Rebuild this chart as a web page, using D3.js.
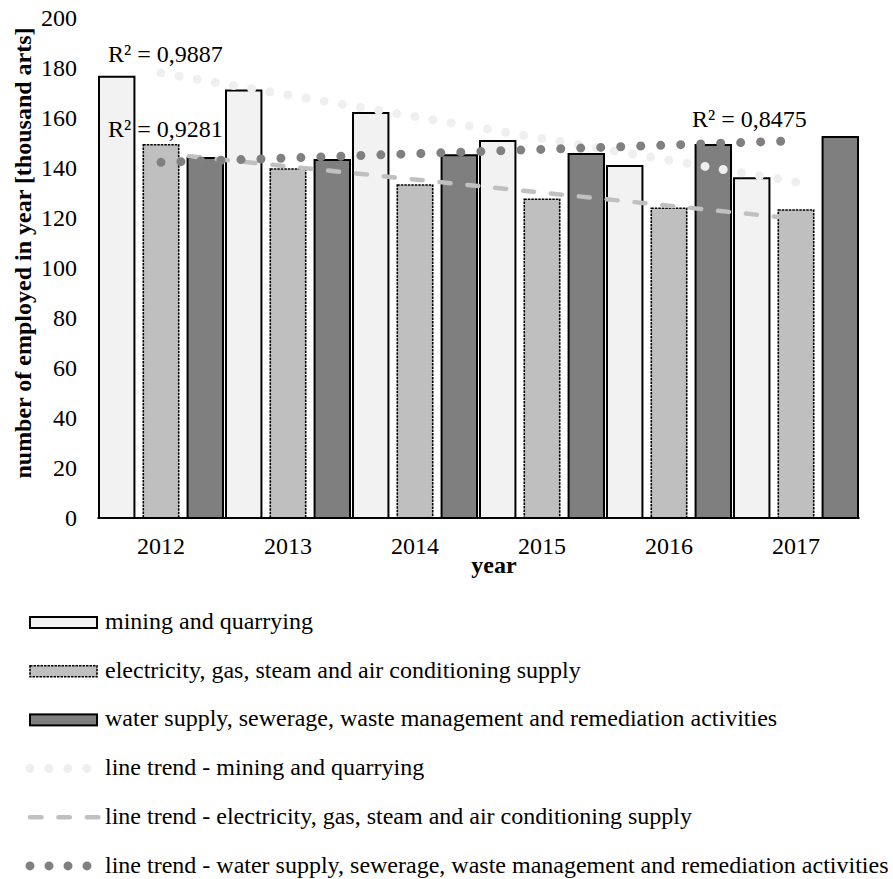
<!DOCTYPE html>
<html>
<head>
<meta charset="utf-8">
<script src="https://cdn.jsdelivr.net/npm/d3@7"></script>
<style>
  html, body { margin: 0; padding: 0; background: #fff; }
  svg { display: block; font-family: "Liberation Serif", "Times New Roman", serif; }
  svg text { font-family: "Liberation Serif", "Times New Roman", serif; }
</style>
</head>
<body>
<svg id="chart" width="893" height="879"></svg>
<script>
// ---- data ----
const years = ["2012", "2013", "2014", "2015", "2016", "2017"];
const mining = [176.5, 171.0, 162.0, 150.8, 140.8, 135.9];
const electricity = [149.3, 139.6, 133.2, 127.5, 123.9, 123.2];
const water = [144.0, 143.2, 145.1, 145.6, 149.2, 152.4];
const yTicks = [0, 20, 40, 60, 80, 100, 120, 140, 160, 180, 200];
const seriesNames = [
  "mining and quarrying",
  "electricity, gas, steam and air conditioning supply",
  "water supply, sewerage, waste management and remediation activities"
];
const trendNames = [
  "line trend - mining and quarrying",
  "line trend - electricity, gas, steam and air conditioning supply",
  "line trend - water supply, sewerage, waste management and remediation activities"
];
const r2Labels = ["R² = 0,9887", "R² = 0,9281", "R² = 0,8475"];
const yTitle = "number of employed in year [thousand arts]";
const xTitle = "year";

// ---- styles ----
const fills = ["#f2f2f2", "#bfbfbf", "#7f7f7f"];
const barStroke = [
  { dash: null, w: 2 },
  { dash: "2.5,1", w: 1.6 },
  { dash: null, w: 2 }
];
const trendStyle = [
  { color: "#efefef", w: 9, dash: "0,18.4" },
  { color: "#c0c0c0", w: 4.5, dash: "11,17" },
  { color: "#808080", w: 9, dash: "0,20" }
];
const legendTrendStyle = [
  { color: "#efefef", w: 9, dash: "0,18.9" },
  { color: "#c0c0c0", w: 4.5, dash: "11.5,16.9" },
  { color: "#808080", w: 9, dash: "0,19" }
];

const svg = d3.select("#chart");
const FS = 24;

const x0 = d3.scaleBand().domain(years).range([97.5, 859.5])
  .paddingInner(3 / 127).paddingOuter(1.5 / 127);
const x1 = d3.scaleBand().domain([0, 1, 2]).range([0, x0.bandwidth()])
  .paddingInner(0.2).paddingOuter(0);
const y = d3.scaleLinear().domain([0, 200]).range([518, 18]);

const series = [mining, electricity, water];

// bars
series.forEach((vals, si) => {
  svg.append("g").selectAll("rect").data(vals).join("rect")
    .attr("x", (d, i) => x0(years[i]) + x1(si))
    .attr("y", d => y(d))
    .attr("width", x1.bandwidth())
    .attr("height", d => y(0) - y(d))
    .attr("fill", fills[si])
    .attr("stroke", "#000")
    .attr("stroke-width", barStroke[si].w)
    .attr("stroke-dasharray", barStroke[si].dash);
});

// linear trend (least squares over category index)
function fit(vals) {
  const n = vals.length;
  const xs = d3.range(n);
  const mx = d3.mean(xs), my = d3.mean(vals);
  const b = d3.sum(xs, (xv, i) => (xv - mx) * (vals[i] - my)) / d3.sum(xs, xv => (xv - mx) ** 2);
  const a = my - b * mx;
  return xs.map(xv => a + b * xv);
}
const line = d3.line()
  .x((d, i) => x0(years[i]) + x0.bandwidth() / 2)
  .y(d => y(d));

[1, 0, 2].forEach(si => {
  const st = trendStyle[si];
  svg.append("path")
    .attr("d", line(fit(series[si])))
    .attr("fill", "none")
    .attr("stroke", st.color)
    .attr("stroke-width", st.w)
    .attr("stroke-linecap", "round")
    .attr("stroke-dasharray", st.dash);
});

// axes
const xAxis = svg.append("g").attr("transform", `translate(0,${y(0)})`)
  .call(d3.axisBottom(x0).tickSize(0).tickPadding(19));
xAxis.select(".domain").attr("stroke", "#000").attr("stroke-width", 2)
  .attr("d", `M97.5,0H859.5`);
xAxis.attr("font-family", null);
xAxis.selectAll("text").attr("font-size", FS).attr("fill", "#000");

const yAxis = svg.append("g").attr("transform", "translate(77,0)")
  .call(d3.axisLeft(y).tickValues(yTicks).tickSize(0).tickPadding(0));
yAxis.select(".domain").remove();
yAxis.attr("font-family", null);
yAxis.selectAll("text").attr("font-size", FS).attr("fill", "#000");

// titles
svg.append("text")
  .attr("transform", "translate(31,253) rotate(-90)")
  .attr("text-anchor", "middle")
  .attr("font-weight", "bold")
  .attr("font-size", 24)
  .text(yTitle);
svg.append("text")
  .attr("x", 494).attr("y", 573)
  .attr("text-anchor", "middle")
  .attr("font-weight", "bold")
  .attr("font-size", FS)
  .text(xTitle);

// R² labels
const r2Pos = [[108, 61.5], [108, 136.5], [692, 127]];
r2Labels.forEach((t, i) => {
  svg.append("text").attr("x", r2Pos[i][0]).attr("y", r2Pos[i][1])
    .attr("font-size", FS).text(t);
});

// legend
const legY0 = 629, legStep = 48.7;
seriesNames.forEach((name, i) => {
  const by = legY0 + i * legStep;
  svg.append("rect")
    .attr("x", 30).attr("y", by - 12).attr("width", 67).attr("height", 11)
    .attr("fill", fills[i]).attr("stroke", "#000")
    .attr("stroke-width", barStroke[i].w)
    .attr("stroke-dasharray", barStroke[i].dash);
  svg.append("text").attr("x", 105).attr("y", by).attr("font-size", FS).text(name);
});
trendNames.forEach((name, i) => {
  const by = legY0 + (i + 3) * legStep;
  const st = legendTrendStyle[i];
  const cy = by - 6.6;
  svg.append("path")
    .attr("d", i === 1 ? `M30,${cy}H99` : `M30,${cy}H88`)
    .attr("fill", "none")
    .attr("stroke", st.color)
    .attr("stroke-width", st.w)
    .attr("stroke-linecap", "round")
    .attr("stroke-dasharray", st.dash);
  svg.append("text").attr("x", 105).attr("y", by).attr("font-size", FS).text(name);
});
</script>
</body>
</html>
